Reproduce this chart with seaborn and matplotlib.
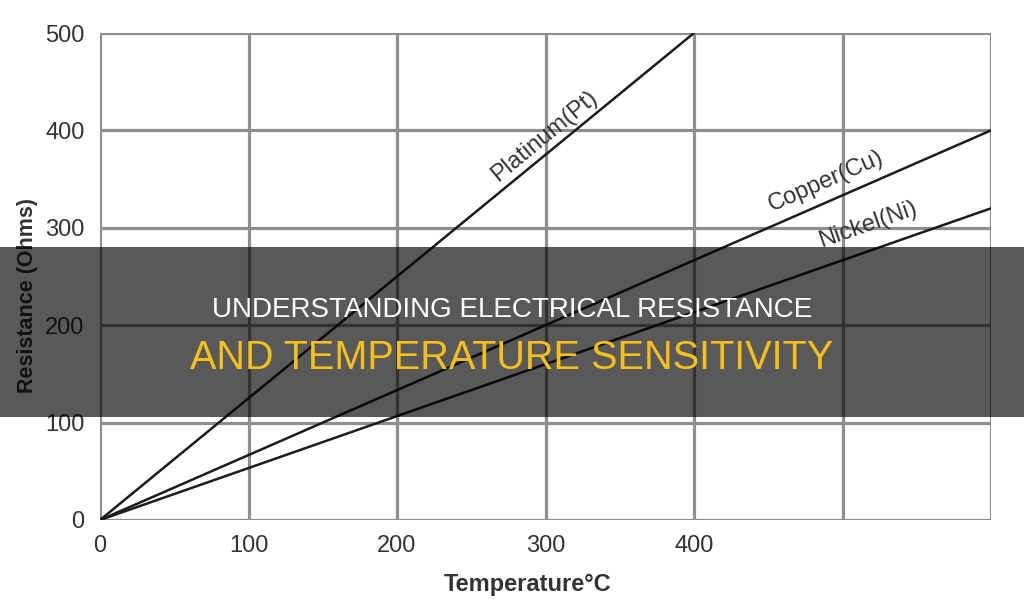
import matplotlib
matplotlib.use('Agg')
import matplotlib.pyplot as plt
from matplotlib.patches import Rectangle
import pandas as pd
import seaborn as sns

# data
metals = ['Platinum(Pt)', 'Copper(Cu)', 'Nickel(Ni)']
temp_pt = [0, 400]
res_pt = [0, 500]
temp_cu = [0, 600]
res_cu = [0, 400]
temp_ni = [0, 600]
res_ni = [0, 320]
xticks = [0, 100, 200, 300, 400]
xgrid = [0, 100, 200, 300, 400, 500, 600]
yticks = [0, 100, 200, 300, 400, 500]
label_pos = {'Platinum(Pt)': (299, 394), 'Copper(Cu)': (489, 348), 'Nickel(Ni)': (517, 303)}

df = pd.concat([
    pd.DataFrame({'temp': temp_pt, 'res': res_pt, 'metal': metals[0]}),
    pd.DataFrame({'temp': temp_cu, 'res': res_cu, 'metal': metals[1]}),
    pd.DataFrame({'temp': temp_ni, 'res': res_ni, 'metal': metals[2]}),
])

sns.set_theme(style='white')
plt.rcParams['font.family'] = ['Liberation Sans', 'DejaVu Sans']

fig = plt.figure(figsize=(10.24, 6.07), dpi=100)
ax = fig.add_axes([100/1024, 87/607, 891/1024, 487/607])

grid_c = '#8e8e8e'
for x in xgrid:
    ax.axvline(x, color=grid_c, lw=2.3, zorder=1)
for y in yticks:
    ax.axhline(y, color=grid_c, lw=2.3, zorder=1)

sns.lineplot(data=df, x='temp', y='res', hue='metal', palette=['#1c1c1c'] * 3,
             linewidth=1.8, legend=False, ax=ax, zorder=3)

ax.set_xlim(0, 600)
ax.set_ylim(0, 500)
ax.set_xticks(xticks)
ax.set_yticks(yticks)
ax.tick_params(axis='both', labelsize=17, colors='#333333', length=0, pad=11)
for s in ax.spines.values():
    s.set_visible(False)

ax.set_xlabel('Temperature°C', fontsize=17, fontweight='bold', color='#333333')
ax.xaxis.set_label_coords(0.48, -0.108)
ax.set_ylabel('Resistance (Ohms)', fontsize=15.5, fontweight='bold', color='#333333')
ax.yaxis.set_label_coords(-0.07, 0.46)

# line labels rotated along lines
angles = {'Platinum(Pt)': 39.4, 'Copper(Cu)': 23.6, 'Nickel(Ni)': 19.3}
for m in metals:
    x, y = label_pos[m]
    ax.text(x, y, m, rotation=angles[m], fontsize=17, color='#333333',
            ha='center', va='center', zorder=4)

# banner overlay
fig.patches.append(Rectangle((-0.01, 190/607), 1.02, 170/607, transform=fig.transFigure,
                             facecolor='black', alpha=0.65, linewidth=0, zorder=10))

fig.text(0.5, 1 - 310/607, 'UNDERSTANDING ELECTRICAL RESISTANCE', color='white',
         fontsize=20, ha='center', va='center', zorder=11)
fig.text(0.5, 1 - 358/607, 'AND TEMPERATURE SENSITIVITY', color='#f5c01c',
         fontsize=28.5, ha='center', va='center', zorder=11)

fig.savefig('out.png', dpi=100)
